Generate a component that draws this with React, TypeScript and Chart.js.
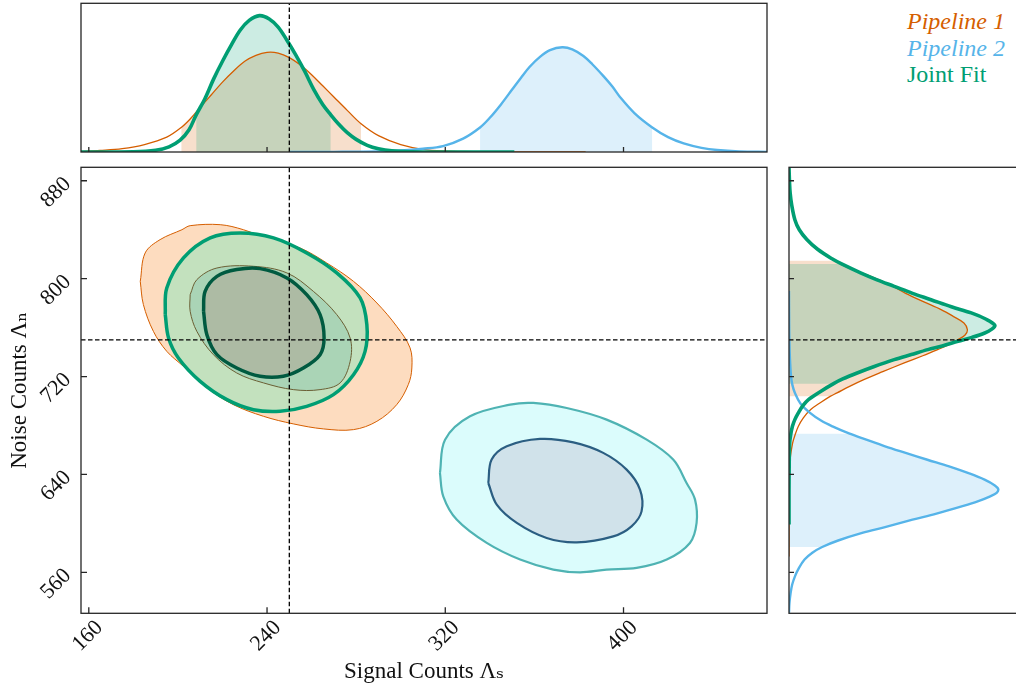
import React, { useEffect, useRef } from 'react';
import { Chart, registerables } from 'chart.js';

Chart.register(...registerables);

type Pair = [number, number];

// ---- axes ----
const SIGNAL_MIN = 156.5;
const SIGNAL_MAX = 464.4;
const NOISE_MIN = 526.5;
const NOISE_MAX = 891;
const SIGNAL_TICKS = [160, 240, 320, 400];
const NOISE_TICKS = [560, 640, 720, 800, 880];
const TRUE_SIGNAL = 250;
const TRUE_NOISE = 750;
const X_TITLE = 'Signal Counts Λₛ';
const Y_TITLE = 'Noise Counts Λₙ';
const LEGEND_LABELS = ['Pipeline 1', 'Pipeline 2', 'Joint Fit'];

// ---- 2D credible contours [signal, noise] ----
const P1_OUTER: Pair[] = [
  [183.1, 797.8], [185.3, 821], [192, 831.9], [201.8, 840], [205.5, 843.3], [219, 844.1], [229.4, 840],
  [241.4, 831.9], [254.8, 825.1], [266.8, 812.8], [278.8, 797.8], [289.3, 780.1], [298.2, 761],
  [304.2, 743.4], [305, 727], [303.4, 713.4], [298.2, 697], [289.3, 683.4], [278.8, 676.6],
  [265.3, 677.2], [251.8, 681.3], [238.4, 687.5], [224.9, 697], [213, 710.7], [202.5, 728.3],
  [195, 740.6], [189, 756.9], [184.5, 778.8],
];
const P1_INNER: Pair[] = [
  [205.5, 786.9], [208.5, 799.2], [217.5, 808.7], [233.9, 810.1], [248.9, 804.7], [260.8, 789.6],
  [271.3, 770.6], [277.3, 751.5], [277.3, 732.4], [272.8, 714.8], [263.8, 709.3], [251.8, 709.3],
  [238.4, 714.8], [226.4, 722.9], [215.9, 737.9], [208.5, 756.9], [205.5, 773.3],
];
const JOINT_OUTER: Pair[] = [
  [194.3, 770.6], [195, 792.4], [202.5, 816.9], [214.5, 833.3], [227.9, 837.3], [242.9, 833.3],
  [257.8, 821], [271.3, 804.7], [281.8, 784.2], [284.8, 762.4], [284, 740.6], [278.8, 721.5],
  [269.8, 705.2], [257.8, 695.6], [245.9, 691.6], [233.9, 692.9], [222, 701.1], [210, 716.1],
  [200.2, 735.2], [195.8, 751.5],
];
const JOINT_INNER: Pair[] = [
  [211.5, 773.3], [212.2, 789.6], [217.5, 801.9], [226.4, 807.4], [236.9, 808.2], [248.9, 800.6],
  [257.8, 786.9], [263.8, 770.6], [265.6, 751.5], [263.8, 737.9], [256.3, 727], [247.3, 720.2],
  [236.9, 720.2], [226.4, 727], [217.5, 737.9], [213, 754.2],
];
const P2_OUTER: Pair[] = [
  [317.6, 641.2], [319.9, 668.4], [331.1, 687.5], [349.1, 697], [359.5, 698.4], [374.5, 694.3],
  [392.4, 684.8], [410.4, 668.4], [422.3, 652.1], [428.3, 633], [432.1, 619.4], [432.8, 600.4],
  [429.8, 584], [419.4, 570.4], [405.9, 563.6], [392.4, 562.2], [380.5, 560], [368.5, 562.2],
  [353.6, 570.4], [338.6, 584], [325.1, 603.1], [319.1, 622.1],
];
const P2_INNER: Pair[] = [
  [339.3, 633], [340.8, 652.1], [347.6, 663], [362.5, 669], [377.5, 666.2], [390.9, 657.6],
  [401.4, 643.9], [407.4, 627.6], [408.1, 609.8], [403.6, 597.6], [395.4, 589.4], [379, 584.5],
  [365.5, 588.1], [352.1, 600.4], [343.1, 615.3],
];

// ---- top marginal [signal, density] ----
const TOP_P1: Pair[] = [
  [156, 0.003], [165, 0.01], [175, 0.022], [185, 0.05], [195, 0.1], [201.5, 0.165], [206, 0.23],
  [210, 0.3], [215, 0.385], [220, 0.47], [225, 0.545], [230, 0.61], [235, 0.65], [240, 0.67],
  [245, 0.665], [250, 0.635], [255, 0.585], [260, 0.52], [265, 0.445], [270, 0.37], [276, 0.28],
  [282.2, 0.19], [290, 0.11], [300, 0.05], [310, 0.018], [320, 0.007], [335, 0.002], [350, 0.001], [383, 0],
];
const TOP_JOINT: Pair[] = [
  [156, 0], [180, 0.002], [190, 0.012], [196, 0.035], [201, 0.08], [205, 0.15], [208.2, 0.25],
  [212, 0.355], [216, 0.49], [220, 0.61], [224, 0.72], [228, 0.82], [232, 0.885], [236.6, 0.917],
  [241, 0.895], [245, 0.84], [249, 0.75], [253, 0.65], [257, 0.54], [261, 0.42], [265, 0.32],
  [268.6, 0.25], [272, 0.19], [276, 0.13], [280, 0.085], [285, 0.045], [290, 0.022], [296, 0.008],
  [305, 0.002], [320, 0], [351, 0],
];
const TOP_P2: Pair[] = [
  [250, 0], [270, 0.001], [290, 0.004], [300, 0.01], [310, 0.022], [319, 0.04], [328, 0.09],
  [335.6, 0.165], [340, 0.23], [345, 0.32], [350, 0.42], [354, 0.5], [358, 0.575], [362.5, 0.64],
  [367, 0.685], [372.5, 0.704], [377, 0.69], [382, 0.645], [386, 0.59], [391, 0.51], [395, 0.44],
  [398.4, 0.37], [405, 0.26], [412.9, 0.165], [420, 0.1], [427, 0.058], [435, 0.028], [442, 0.013],
  [452, 0.004], [465, 0.001],
];
const TOP_SHADE_P1: Pair = [201.5, 282.2];
const TOP_SHADE_JOINT: Pair = [208.2, 268.6];
const TOP_SHADE_P2: Pair = [335.6, 412.9];

// ---- right marginal [noise, density] ----
const RIGHT_P1: Pair[] = [
  [891, 0], [880, 0.002], [870, 0.005], [860, 0.012], [848, 0.026], [840, 0.045], [832, 0.075],
  [824, 0.12], [814.7, 0.2], [808, 0.27], [802, 0.355], [795, 0.44], [788, 0.51], [781, 0.59],
  [774.7, 0.665], [769, 0.72], [763.8, 0.765], [758.3, 0.78], [754, 0.77], [750.2, 0.739], [746, 0.7],
  [742, 0.65], [737, 0.585], [731.1, 0.504], [724, 0.41], [717.5, 0.327], [712, 0.265], [706.6, 0.21],
  [703.8, 0.18], [699, 0.14], [693, 0.095], [686, 0.062], [679.3, 0.041], [672, 0.026], [665.7, 0.016],
  [652, 0.005], [630, 0.001], [600, 0], [573, 0],
];
const RIGHT_JOINT: Pair[] = [
  [891, 0], [880, 0.002], [870, 0.005], [860, 0.012], [848, 0.026], [840, 0.045], [832, 0.078],
  [824, 0.125], [816, 0.19], [812, 0.23], [804.7, 0.313], [799, 0.385], [793.7, 0.46], [788, 0.54],
  [782.8, 0.621], [777, 0.71], [772, 0.797], [767, 0.86], [761.8, 0.9], [758.5, 0.885], [755.6, 0.856],
  [752, 0.8], [748.8, 0.739], [745, 0.67], [742, 0.607], [738, 0.535], [733.8, 0.46], [728, 0.37],
  [722.9, 0.298], [718, 0.235], [714.2, 0.195], [708, 0.14], [701.1, 0.085], [696, 0.06], [690.3, 0.041],
  [685, 0.026], [679.3, 0.015], [672, 0.007], [665.7, 0.003], [650, 0.001], [625, 0], [599, 0],
];
const RIGHT_P2: Pair[] = [
  [790, 0], [760, 0.001], [740, 0.003], [728, 0.006], [720, 0.009], [713, 0.015], [706.6, 0.026],
  [698, 0.05], [690.3, 0.092], [684, 0.14], [679.3, 0.19], [673.3, 0.265], [668.4, 0.338], [663, 0.42],
  [657.6, 0.51], [652, 0.605], [646.6, 0.7], [641, 0.785], [635.7, 0.855], [631, 0.9], [628, 0.915],
  [625, 0.908], [622.1, 0.88], [618, 0.825], [613.9, 0.755], [608, 0.645], [603, 0.54], [597, 0.42],
  [592.2, 0.32], [586, 0.215], [580.7, 0.145], [576, 0.102], [570.4, 0.068], [563, 0.042], [556.7, 0.026],
  [550, 0.014], [543.1, 0.007], [535, 0.002], [527, 0],
];
const RIGHT_SHADE_P1: Pair = [703.8, 814.7];
const RIGHT_SHADE_JOINT: Pair = [714.2, 812];
const RIGHT_SHADE_P2: Pair = [580.7, 673.3];

// ---- styles ----
const SERIF = "'Liberation Serif', 'DejaVu Serif', 'Times New Roman', serif";
const C_P1 = '#D55E00';
const C_P2 = '#56B4E9';
const C_JOINT = '#009E73';
const SH_P1 = 'rgba(213,94,0,0.2)';
const SH_P2 = 'rgba(86,180,233,0.2)';
const SH_JOINT = 'rgba(0,158,115,0.2)';
const TEXT = '#111111';

const toPts = (arr: Pair[]) => arr.map(([x, y]) => ({ x, y }));
const closed = (arr: Pair[]) => toPts([...arr, arr[0]]);
const swap = (arr: Pair[]) => arr.map(([v, d]) => ({ x: d, y: v }));

function line(data: any[], color: string, width: number, extra: any = {}) {
  return {
    data,
    showLine: true,
    borderColor: color,
    borderWidth: width,
    pointRadius: 0,
    pointHoverRadius: 0,
    fill: false,
    tension: 0.35,
    ...extra,
  };
}

function withOrder(ds: any[]) {
  return ds.map((d, i) => ({ ...d, order: ds.length - i }));
}

function framePlugin(opts: { bottomTicks?: number[]; leftTicks?: number[]; tickLen: number }) {
  return {
    id: 'frameAndTicks',
    afterDraw(chart: any) {
      const { ctx, chartArea } = chart;
      const { left, right, top, bottom } = chartArea;
      const xs = chart.scales.x;
      const ys = chart.scales.y;
      ctx.save();
      ctx.strokeStyle = '#262626';
      ctx.lineWidth = 1.3;
      ctx.beginPath();
      (opts.bottomTicks || []).forEach((v) => {
        const px = xs.getPixelForValue(v);
        ctx.moveTo(px, bottom);
        ctx.lineTo(px, bottom - opts.tickLen);
      });
      (opts.leftTicks || []).forEach((v) => {
        const py = ys.getPixelForValue(v);
        ctx.moveTo(left, py);
        ctx.lineTo(left + opts.tickLen, py);
      });
      ctx.stroke();
      ctx.strokeRect(left, top, right - left, bottom - top);
      ctx.restore();
    },
  };
}

const baseOptions = {
  responsive: false,
  animation: false as const,
  events: [] as any[],
  plugins: { legend: { display: false }, tooltip: { enabled: false } },
};

export default function App() {
  const topRef = useRef<HTMLCanvasElement>(null);
  const mainRef = useRef<HTMLCanvasElement>(null);
  const rightRef = useRef<HTMLCanvasElement>(null);

  useEffect(() => {
    const charts: Chart[] = [];
    const dash = { borderColor: '#000', borderWidth: 1.3, borderDash: [4.5, 2.5], tension: 0 };

    // ---------- main joint panel ----------
    const mainDatasets = withOrder([
      line(closed(P2_OUTER), '#4FB3B3', 2.2, { fill: 'shape', backgroundColor: '#DBFCFC', label: LEGEND_LABELS[1] }),
      line(closed(P2_INNER), '#2B5E82', 2.2, { fill: 'shape', backgroundColor: '#D0E2EA' }),
      line(closed(P1_OUTER), C_P1, 1, { fill: 'shape', backgroundColor: '#FDDCBF', label: LEGEND_LABELS[0] }),
      line(closed(JOINT_OUTER), C_JOINT, 3.5, { fill: 'shape', backgroundColor: '#C3E1BE', label: LEGEND_LABELS[2] }),
      line(closed(P1_INNER), '#6B5F34', 1, { fill: 'shape', backgroundColor: '#AAD4B6' }),
      line(closed(JOINT_INNER), '#005A40', 3.5, { fill: 'shape', backgroundColor: 'rgba(175,165,149,0.55)' }),
      line(toPts([[TRUE_SIGNAL, NOISE_MIN], [TRUE_SIGNAL, NOISE_MAX]]), '#000', 1.3, dash),
      line(toPts([[SIGNAL_MIN, TRUE_NOISE], [SIGNAL_MAX, TRUE_NOISE]]), '#000', 1.3, dash),
    ]);

    if (mainRef.current) {
      charts.push(
        new Chart(mainRef.current, {
          type: 'scatter',
          data: { datasets: mainDatasets },
          options: {
            ...baseOptions,
            layout: { padding: { left: 0, top: 7.3, right: 13, bottom: 0 } },
            scales: {
              x: {
                type: 'linear',
                min: SIGNAL_MIN,
                max: SIGNAL_MAX,
                grid: { display: false, drawTicks: false },
                border: { display: false },
                afterBuildTicks: (s: any) => {
                  s.ticks = SIGNAL_TICKS.map((v) => ({ value: v }));
                },
                afterFit: (s: any) => {
                  s.height = 75.7;
                  s.paddingLeft = 0;
                  s.paddingRight = 0;
                  s.paddingTop = 0;
                  s.paddingBottom = 0;
                },
                ticks: {
                  autoSkip: false,
                  minRotation: 45,
                  maxRotation: 45,
                  padding: 1.7,
                  labelOffset: 10.6,
                  color: TEXT,
                  font: { family: SERIF, size: 22 },
                  callback: (v: any) => String(v),
                },
                title: {
                  display: true,
                  text: X_TITLE,
                  color: TEXT,
                  font: { family: SERIF, size: 23 },
                  padding: { top: 0, bottom: 3.7 },
                },
              },
              y: {
                type: 'linear',
                min: NOISE_MIN,
                max: NOISE_MAX,
                grid: { display: false, drawTicks: false },
                border: { display: false },
                afterBuildTicks: (s: any) => {
                  s.ticks = NOISE_TICKS.map((v) => ({ value: v }));
                },
                afterFit: (s: any) => {
                  s.width = 81;
                  s.paddingLeft = 0;
                  s.paddingRight = 0;
                  s.paddingTop = 0;
                  s.paddingBottom = 0;
                },
                ticks: {
                  autoSkip: false,
                  minRotation: 45,
                  maxRotation: 45,
                  padding: 13.3,
                  color: TEXT,
                  font: { family: SERIF, size: 22 },
                  callback: (v: any) => String(v),
                },
                title: {
                  display: true,
                  text: Y_TITLE,
                  color: TEXT,
                  font: { family: SERIF, size: 23 },
                  padding: { top: 6.2, bottom: 0 },
                },
              },
            },
          } as any,
          plugins: [framePlugin({ bottomTicks: SIGNAL_TICKS, leftTicks: NOISE_TICKS, tickLen: 6 })],
        })
      );
    }

    // ---------- top marginal ----------
    const inRange = (arr: Pair[], r: Pair) => arr.filter(([v]) => v >= r[0] && v <= r[1]);
    const topDatasets = withOrder([
      line(toPts(inRange(TOP_P2, TOP_SHADE_P2)), 'transparent', 0, { fill: 'origin', backgroundColor: SH_P2 }),
      line(toPts(inRange(TOP_P1, TOP_SHADE_P1)), 'transparent', 0, { fill: 'origin', backgroundColor: SH_P1 }),
      line(toPts(inRange(TOP_JOINT, TOP_SHADE_JOINT)), 'transparent', 0, { fill: 'origin', backgroundColor: SH_JOINT }),
      line(toPts(TOP_P1), C_P1, 1.3, { label: LEGEND_LABELS[0] }),
      line(toPts(TOP_P2), C_P2, 2.4, { label: LEGEND_LABELS[1] }),
      line(toPts(TOP_JOINT), C_JOINT, 3.6, { label: LEGEND_LABELS[2] }),
      line(toPts([[TRUE_SIGNAL, 0], [TRUE_SIGNAL, 1]]), '#000', 1.3, dash),
    ]);
    if (topRef.current) {
      charts.push(
        new Chart(topRef.current, {
          type: 'scatter',
          data: { datasets: topDatasets },
          options: {
            ...baseOptions,
            layout: { padding: { left: 11, top: 3.3, right: 13, bottom: 8 } },
            scales: {
              x: { type: 'linear', min: SIGNAL_MIN, max: SIGNAL_MAX, display: false },
              y: { type: 'linear', min: 0, max: 1, display: false },
            },
          } as any,
          plugins: [framePlugin({ bottomTicks: SIGNAL_TICKS, tickLen: 5 })],
        })
      );
    }

    // ---------- right marginal ----------
    const shadePoly = (arr: Pair[], r: Pair) => [
      { x: 0, y: r[1] },
      ...swap(inRange(arr, r)),
      { x: 0, y: r[0] },
    ];
    const rightDatasets = withOrder([
      line(shadePoly(RIGHT_P2, RIGHT_SHADE_P2), 'transparent', 0, { fill: 'shape', backgroundColor: SH_P2, tension: 0 }),
      line(shadePoly(RIGHT_P1, RIGHT_SHADE_P1), 'transparent', 0, { fill: 'shape', backgroundColor: SH_P1, tension: 0 }),
      line(shadePoly(RIGHT_JOINT, RIGHT_SHADE_JOINT), 'transparent', 0, { fill: 'shape', backgroundColor: SH_JOINT, tension: 0 }),
      line(swap(RIGHT_P1), C_P1, 1.3, { label: LEGEND_LABELS[0] }),
      line(swap(RIGHT_P2), C_P2, 2.4, { label: LEGEND_LABELS[1] }),
      line(swap(RIGHT_JOINT), C_JOINT, 3.6, { label: LEGEND_LABELS[2] }),
      line(toPts([[0, TRUE_NOISE], [1.2, TRUE_NOISE]]), '#000', 1.3, dash),
    ]);
    if (rightRef.current) {
      charts.push(
        new Chart(rightRef.current, {
          type: 'scatter',
          data: { datasets: rightDatasets },
          options: {
            ...baseOptions,
            layout: { padding: { left: 9, top: 7.3, right: 12.3, bottom: 6.7 } },
            scales: {
              x: { type: 'linear', min: 0, max: 1, display: false },
              y: { type: 'linear', min: NOISE_MIN, max: NOISE_MAX, display: false },
            },
          } as any,
          plugins: [framePlugin({ leftTicks: NOISE_TICKS, tickLen: 5 })],
        })
      );
    }

    return () => charts.forEach((c) => c.destroy());
  }, []);

  const legendColors = [C_P1, C_P2, C_JOINT];
  const legendItalic = [true, true, false];

  return (
    <div
      style={{
        position: 'absolute',
        left: 0,
        top: 0,
        width: 1016,
        height: 689,
        overflow: 'hidden',
        background: '#ffffff',
      }}
    >
      <canvas
        ref={topRef}
        width={710}
        height={160}
        style={{ position: 'absolute', left: 70, top: 0, width: 710, height: 160 }}
      />
      <canvas
        ref={mainRef}
        width={780}
        height={529}
        style={{ position: 'absolute', left: 0, top: 160, width: 780, height: 529 }}
      />
      <canvas
        ref={rightRef}
        width={250}
        height={460}
        style={{ position: 'absolute', left: 780, top: 160, width: 250, height: 460 }}
      />
      <div
        style={{
          position: 'absolute',
          left: 907,
          top: 8.3,
          fontFamily: SERIF,
          fontSize: 24,
          lineHeight: '26.3px',
          whiteSpace: 'nowrap',
        }}
      >
        {LEGEND_LABELS.map((t, i) => (
          <div key={t} style={{ color: legendColors[i], fontStyle: legendItalic[i] ? 'italic' : 'normal' }}>
            {t}
          </div>
        ))}
      </div>
    </div>
  );
}
